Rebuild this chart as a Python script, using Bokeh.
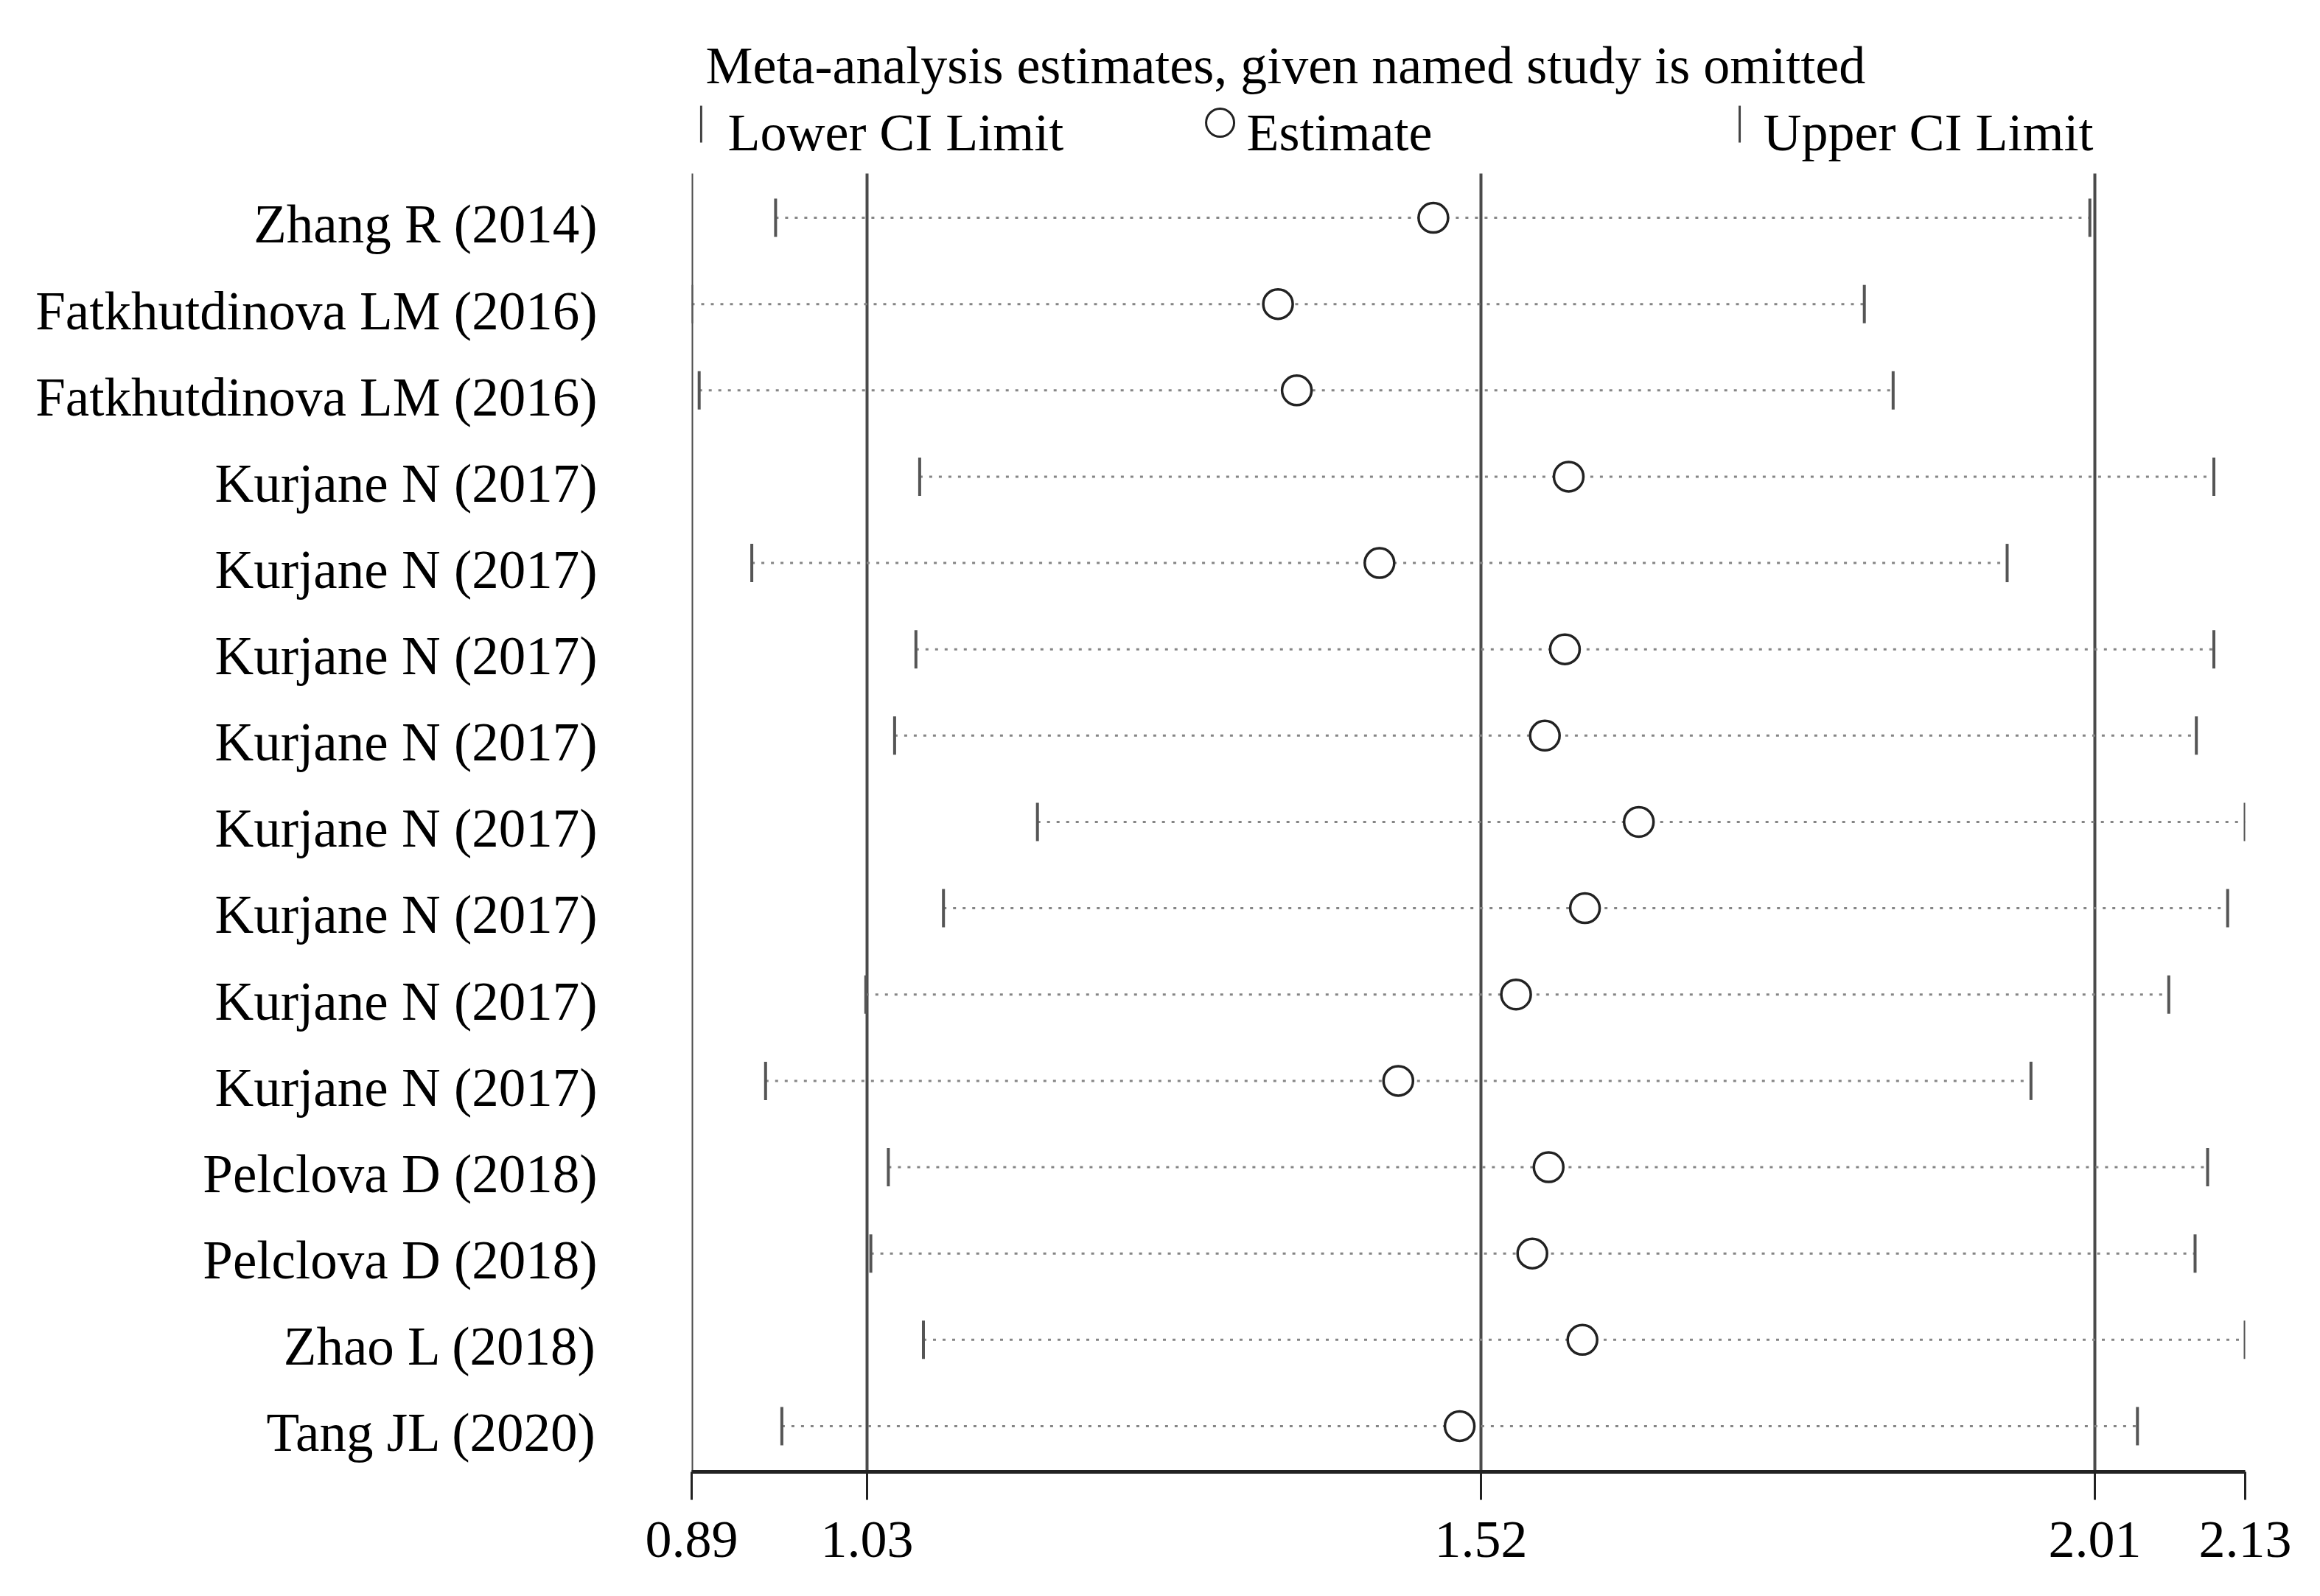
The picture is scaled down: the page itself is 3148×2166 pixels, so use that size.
from bokeh.plotting import figure
from bokeh.models import Range1d, FixedTicker, ColumnDataSource
from bokeh.core.properties import value
from bokeh.embed import file_html
from bokeh.resources import INLINE

studies = ["Zhang R (2014)", "Fatkhutdinova LM (2016)", "Fatkhutdinova LM (2016)",
           "Kurjane N (2017)", "Kurjane N (2017)", "Kurjane N (2017)", "Kurjane N (2017)",
           "Kurjane N (2017)", "Kurjane N (2017)", "Kurjane N (2017)", "Kurjane N (2017)",
           "Pelclova D (2018)", "Pelclova D (2018)", "Zhao L (2018)", "Tang JL (2020)"]
estimate = [1.482, 1.358, 1.373, 1.590, 1.439, 1.587, 1.571, 1.646, 1.603, 1.548,
            1.454, 1.574, 1.561, 1.601, 1.503]
lower = [0.957, 0.890, 0.896, 1.072, 0.938, 1.069, 1.052, 1.166, 1.091, 1.029,
         0.949, 1.047, 1.033, 1.075, 0.962]
upper = [2.006, 1.826, 1.849, 2.105, 1.940, 2.105, 2.091, 2.130, 2.116, 2.069,
         1.959, 2.100, 2.090, 2.130, 2.044]
x_ticks = [0.89, 1.03, 1.52, 2.01, 2.13]
x_tick_labels = ["0.89", "1.03", "1.52", "2.01", "2.13"]
ref_lines = [0.89, 1.03, 1.52, 2.01]
title_text = "Meta-analysis estimates, given named study is omitted"
legend_texts = ["Lower CI Limit", "Estimate", "Upper CI Limit"]

FONT = "Liberation Serif"
rows = list(range(len(studies)))
label_pos = [r + 0.08 for r in rows]   # names sit slightly below their row

p = figure(width=3130, height=2148, output_backend="svg", toolbar_location=None,
           x_range=Range1d(0.89, 2.13), y_range=Range1d(14.53, -2.348),
           min_border_left=938, min_border_right=84, min_border_top=20,
           min_border_bottom=151)
p.outline_line_color = None
p.xgrid.visible = False
p.ygrid.visible = False
p.background_fill_color = "white"

# reference vertical lines
top_y = -0.512
p.segment(x0=ref_lines, x1=ref_lines, y0=[top_y] * len(ref_lines),
          y1=[14.53] * len(ref_lines), line_color="#4a4a4a", line_width=4)

src = ColumnDataSource(dict(y=rows, est=estimate, lo=lower, hi=upper))
p.segment(x0="lo", x1="hi", y0="y", y1="y", source=src, line_color="#858585",
          line_width=3, line_dash="4 9")
p.scatter(x="lo", y="y", source=src, marker="dash", angle=1.5708, size=52,
          line_color="#555555", line_width=4)
p.scatter(x="hi", y="y", source=src, marker="dash", angle=1.5708, size=52,
          line_color="#555555", line_width=4)
p.scatter(x="est", y="y", source=src, marker="circle", size=40,
          fill_color="white", line_color="#222222", line_width=3.5)

# title and legend
p.text(x=[0.9012], y=[-1.767], text=[title_text], text_font=value(FONT),
       text_font_size="72px", text_color="black", text_baseline="alphabetic")
leg_x = [0.9188, 1.333, 1.7453]
p.text(x=leg_x, y=[-0.99] * 3, text=legend_texts, text_font=value(FONT),
       text_font_size="72px", text_color="black", text_baseline="alphabetic")
p.segment(x0=[0.8976, 1.7265], x1=[0.8976, 1.7265], y0=[-1.298, -1.298],
          y1=[-0.871, -0.871], line_color="#444444", line_width=3)
p.scatter(x=[1.3118], y=[-1.101], marker="circle", size=38, fill_color="white",
          line_color="#222222", line_width=3)

# x axis
xa = p.xaxis[0]
xa.ticker = FixedTicker(ticks=x_ticks, minor_ticks=[])
xa.major_label_overrides = {t: s for t, s in zip(x_ticks, x_tick_labels)}
xa.axis_line_width = 5
xa.axis_line_color = "#222222"
xa.major_tick_line_width = 3
xa.major_tick_line_color = "#222222"
xa.major_tick_out = 38
xa.major_tick_in = 0
xa.minor_tick_line_color = None
xa.major_label_standoff = 30
xa.major_label_text_font = FONT
xa.major_label_text_font_size = "72px"
xa.major_label_text_color = "black"

# y axis with study names
ya = p.yaxis[0]
ya.ticker = FixedTicker(ticks=label_pos, minor_ticks=[])
ya.major_label_overrides = {t: s for t, s in zip(label_pos, studies)}
ya.axis_line_color = None
ya.major_tick_line_color = None
ya.minor_tick_line_color = None
ya.major_tick_out = 0
ya.major_tick_in = 0
ya.major_label_standoff = 128
ya.major_label_text_font = FONT
ya.major_label_text_font_size = "73px"
ya.major_label_text_color = "black"

open("out.html", "w").write(file_html(p, INLINE))
